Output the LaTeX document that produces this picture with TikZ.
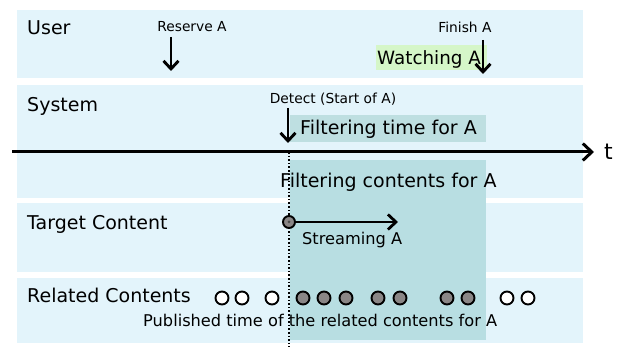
\documentclass[tikz,border=0pt]{standalone}
\usepackage{fontspec}
\setmainfont{DejaVu Sans}
\usetikzlibrary{arrows.meta}
\definecolor{lanecol}{HTML}{E3F4FB}
\definecolor{filtcol}{HTML}{B8DEE2}
\definecolor{timecol}{HTML}{BEDFE1}
\definecolor{watchcol}{HTML}{D5F6C8}
\definecolor{dotgray}{HTML}{8A8686}
\tikzset{
  lanebox/.style={fill=lanecol, draw=none},
  biglabel/.style={font=\fontsize{19}{22}\selectfont, inner sep=0pt, anchor=base west},
  midlabel/.style={font=\fontsize{16.2}{19}\selectfont, inner sep=0pt, anchor=base west},
  smalllabel/.style={font=\fontsize{13.8}{16}\selectfont, inner sep=0pt, anchor=base},
  evarrow/.style={line width=2.9pt, -{Straight Barb[length=8pt,width=15pt]}},
  axisarrow/.style={line width=3pt, -{Straight Barb[length=9pt,width=17pt]}},
  opendot/.style={circle, draw=black, line width=1.9pt, fill=white, minimum size=13pt, inner sep=0pt},
  fulldot/.style={circle, draw=black, line width=1.9pt, fill=dotgray, minimum size=13pt, inner sep=0pt},
}
\begin{document}
\begin{tikzpicture}[x=1pt,y=-1pt]
\useasboundingbox (0,0) rectangle (625,347);
\fill[white] (0,0) rectangle (625,347);
% lanes
\fill[lanebox] (17,10) rectangle (583,78);
\fill[lanebox] (17,85) rectangle (583,198);
\fill[lanebox] (17,203) rectangle (583,272);
\fill[lanebox] (17,278) rectangle (583,343);
% filtering regions
\fill[filtcol] (290,160) rectangle (486,340);
\fill[timecol] (290,115) rectangle (486,142);
% watching box
\fill[watchcol] (376,45) rectangle (487,70);
% dotted line
\coordinate (dtop) at (289,152);
\coordinate (dbot) at (289,347);
\draw[line width=1.6pt, dotted] (dtop) -- (dbot);
% axis
\coordinate (ax0) at (12,152);
\coordinate (ax1) at (594,152);
\draw[axisarrow] (ax0) -- (ax1);
\node[font=\fontsize{22}{24}\selectfont, inner sep=0pt, anchor=base west] (t) at (604,160) {t};
% lane labels
\node[biglabel] (user) at (27,35) {User};
\node[biglabel] (system) at (27,112) {System};
\node[biglabel] (target) at (27,230) {Target Content};
\node[biglabel] (related) at (27,303) {Related Contents};
% event labels
\node[smalllabel] (reserve) at (192,32) {Reserve A};
\node[smalllabel] (finish) at (465,33) {Finish A};
\node[smalllabel] (detect) at (333,104) {Detect (Start of A)};
\node[biglabel, font=\fontsize{18.3}{21}\selectfont] (watching) at (377,65) {Watching A};
\node[biglabel] (ftime) at (300,135) {Filtering time for A};
\node[biglabel] (fcont) at (280,188) {Filtering contents for A};
% event arrows
\coordinate (r0) at (171,37); \coordinate (r1) at (171,71);
\draw[evarrow] (r0) -- (r1);
\coordinate (f0) at (483,40); \coordinate (f1) at (483,74);
\draw[evarrow] (f0) -- (f1);
\coordinate (d0) at (288,108); \coordinate (d1) at (288,143);
\draw[evarrow] (d0) -- (d1);
% target content
\node[fulldot, minimum size=12pt] (tc) at (289,222) {};
\coordinate (tcend) at (398,222);
\draw[evarrow, line width=2.8pt] (tc) -- (tcend);
\fill[black!70] (tc.center) circle (1.5pt);
\node[midlabel] (stream) at (302,245) {Streaming A};
% related contents dots
\foreach \x [count=\i] in {222,242,272,507,528} \node[opendot] (o\i) at (\x,298) {};
\foreach \x [count=\i] in {303,324,346,378,400,447,468} \node[fulldot] (g\i) at (\x,298) {};
\node[midlabel] (pub) at (143,327) {Published time of the related contents for A};
\end{tikzpicture}
\end{document}
